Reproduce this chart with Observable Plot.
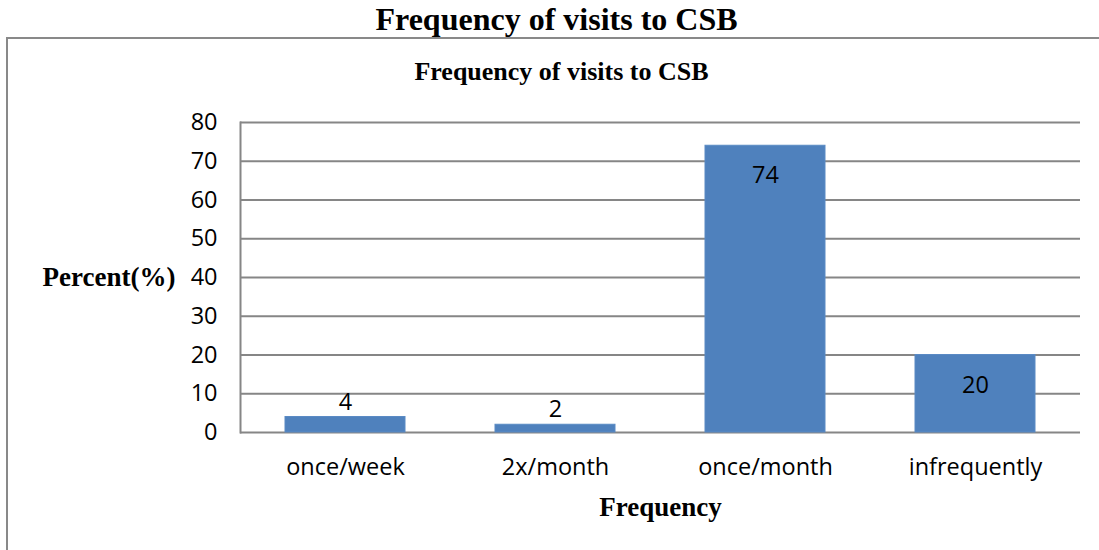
<!DOCTYPE html>
<html>
<head>
<meta charset="utf-8">
<script src="https://cdn.jsdelivr.net/npm/d3@7"></script>
<script src="https://cdn.jsdelivr.net/npm/@observablehq/plot@0.6"></script>
<style>
  html, body { margin: 0; padding: 0; background: #fff; width: 1099px; height: 550px; overflow: hidden; }
  .outer-title { position: absolute; left: 0; top: 1px; width: 1113px; text-align: center; white-space: nowrap;
    font-family: "Liberation Serif", "Times New Roman", serif; font-weight: bold; font-size: 32px; color: #000; line-height: 36px; }
  .box { position: absolute; left: 6px; top: 37px; width: 1200px; height: 600px; border: 2px solid #898989; box-sizing: border-box; }
  .inner-title { position: absolute; left: 0; top: 57px; width: 1123px; text-align: center; white-space: nowrap;
    font-family: "Liberation Serif", "Times New Roman", serif; font-weight: bold; font-size: 26px; color: #000; line-height: 30px; }
  #chart { position: absolute; left: 0; top: 100px; }
</style>
</head>
<body>
<div class="outer-title">Frequency of visits to CSB</div>
<div class="box"></div>
<div class="inner-title">Frequency of visits to CSB</div>
<div id="chart"></div>
<script>
const categories = ["once/week", "2x/month", "once/month", "infrequently"];
const percents = [4, 2, 74, 20];
const yTicks = [0, 10, 20, 30, 40, 50, 60, 70, 80];
const yLabel = "Percent(%)";
const xLabel = "Frequency";

const data = categories.map((c, i) => ({category: c, value: percents[i]}));
const sans = "'Open Sans', 'DejaVu Sans', sans-serif";
const serif = "'Liberation Serif', 'Times New Roman', serif";

const chart = Plot.plot({
  width: 1099,
  height: 430,
  marginLeft: 240,
  marginRight: 19,
  marginTop: 22,
  marginBottom: 98,
  style: {fontFamily: sans, fontSize: "23.5px", color: "#000", background: "transparent"},
  x: {domain: categories, paddingInner: 0.4286, paddingOuter: 0.2143, label: null, tickSize: 0, tickPadding: 26},
  y: {domain: [0, 80], ticks: yTicks, label: null, tickSize: 0, tickPadding: 23},
  marks: [
    Plot.ruleY(yTicks, {stroke: "#868686", strokeWidth: 2}),
    Plot.frame({anchor: "left", stroke: "#868686", strokeWidth: 2}),
    Plot.barY(data, {x: "category", y: "value", fill: "#4F81BD", stroke: "#5a8ac4", strokeWidth: 1}),
    Plot.text(data.filter(d => d.value < 10), {x: "category", y: "value", text: d => String(d.value), dy: -15, fontSize: 23.5, fill: "#000"}),
    Plot.text(data.filter(d => d.value >= 10), {x: "category", y: "value", text: d => String(d.value), dy: 30, fontSize: 23.5, fill: "#000"}),
    Plot.text([yLabel], {frameAnchor: "left", dx: -65, textAnchor: "end", fontFamily: serif, fontWeight: "bold", fontSize: 27, fill: "#000"}),
    Plot.text([xLabel], {frameAnchor: "bottom", dy: 83, fontFamily: serif, fontWeight: "bold", fontSize: 27, fill: "#000"})
  ]
});
document.getElementById("chart").appendChild(chart);
</script>
</body>
</html>
